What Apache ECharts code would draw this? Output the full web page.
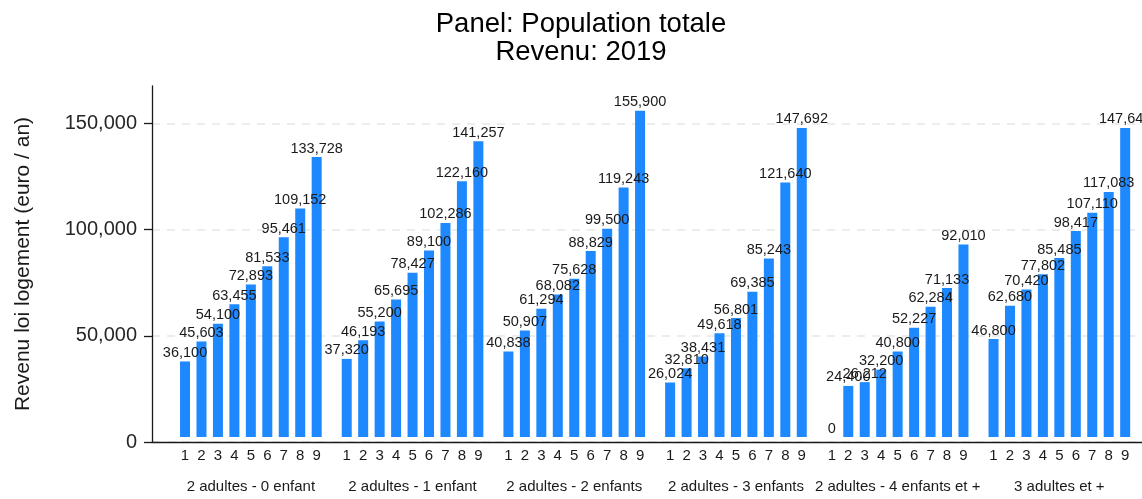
<!DOCTYPE html>
<html>
<head>
<meta charset="utf-8">
<script src="https://cdn.jsdelivr.net/npm/echarts@6/dist/echarts.min.js"></script>
<style>html,body{margin:0;padding:0;background:#fff}#c{width:1142px;height:499px}</style>
</head>
<body>
<div id="c"></div>
<script>
const deciles = ['1','2','3','4','5','6','7','8','9'];
const groups = ['2 adultes - 0 enfant','2 adultes - 1 enfant','2 adultes - 2 enfants','2 adultes - 3 enfants','2 adultes - 4 enfants et +','3 adultes et +'];
const g1 = [36100, 45603, 54100, 63455, 72893, 81533, 95461, 109152, 133728];
const g2 = [37320, 46193, 55200, 65695, 78427, 89100, 102286, 122160, 141257];
const g3 = [40838, 50907, 61294, 68082, 75628, 88829, 99500, 119243, 155900];
const g4 = [26024, 32810, 38431, 49618, 56801, 69385, 85243, 121640, 147692];
const g5 = [0, 24400, 26212, 32200, 40800, 52227, 62284, 71133, 92010];
const g6 = [46800, 62680, 70420, 77802, 85485, 98417, 107110, 117083, 147640];
const yTicks = [0, 50000, 100000, 150000];
const titleLines = ['Panel: Population totale', 'Revenu: 2019'];
const yName = 'Revenu loi logement (euro / an)';

const seriesData = [g1, g2, g3, g4, g5, g6];
const FONT = 'Liberation Sans, Arial, Helvetica, sans-serif';
const YMAX = 167700;
const TOP = 86, BOTTOM = 57;
const G0 = 176.8, GSTEP = 161.7, GW = 148.1;
const fmt = v => v.toLocaleString('en-US');

const grids = [{left: 152, right: -30, top: TOP, bottom: BOTTOM}];
const xAxes = [{
  gridIndex: 0, type: 'category', data: [''],
  axisLine: {lineStyle: {color: '#1a1a1a', width: 1.3}},
  axisTick: {show: false}, axisLabel: {show: false}
}];
const yAxes = [{
  gridIndex: 0, type: 'value', min: 0, max: YMAX, interval: 50000,
  name: yName, nameLocation: 'middle', nameGap: 118,
  nameTextStyle: {fontFamily: FONT, fontSize: 21, color: '#1a1a1a'},
  axisLine: {show: true, lineStyle: {color: '#1a1a1a', width: 1.3}},
  axisTick: {show: true, length: 8, customValues: yTicks, lineStyle: {color: '#1a1a1a', width: 1.3}},
  axisLabel: {customValues: yTicks, margin: 15, fontFamily: FONT, fontSize: 20, color: '#262626', formatter: v => fmt(v)},
  splitLine: {show: true, lineStyle: {color: '#e8e8e8', width: 1.5, type: [8, 7]}}
}];
const series = [];
seriesData.forEach((d, i) => {
  grids.push({left: G0 + GSTEP * i, width: GW, top: TOP, bottom: BOTTOM});
  xAxes.push({
    gridIndex: i + 1, type: 'category', data: deciles,
    axisLine: {show: false}, axisTick: {show: false},
    axisLabel: {margin: 11, fontFamily: FONT, fontSize: 15, color: '#1a1a1a', interval: 0},
    name: groups[i], nameLocation: 'middle', nameGap: 42,
    nameTextStyle: {fontFamily: FONT, fontSize: 15, color: '#1a1a1a'}
  });
  yAxes.push({gridIndex: i + 1, type: 'value', min: 0, max: YMAX, show: false});
  series.push({
    type: 'bar', xAxisIndex: i + 1, yAxisIndex: i + 1, data: d,
    barWidth: 10, itemStyle: {color: '#1e88ff'},
    label: {show: true, position: 'top', distance: 1, fontFamily: FONT, fontSize: 14.5, color: '#1a1a1a', formatter: p => fmt(p.value)},
    animation: false
  });
});

const chart = echarts.init(document.getElementById('c'), null, {renderer: 'canvas'});
chart.setOption({
  animation: false,
  title: {
    text: titleLines.join('\n'), left: 576, top: 5, textAlign: 'center',
    textStyle: {fontFamily: FONT, fontSize: 27.5, fontWeight: 'normal', color: '#000', lineHeight: 28.4}
  },
  grid: grids, xAxis: xAxes, yAxis: yAxes, series: series
});
</script>
</body>
</html>
